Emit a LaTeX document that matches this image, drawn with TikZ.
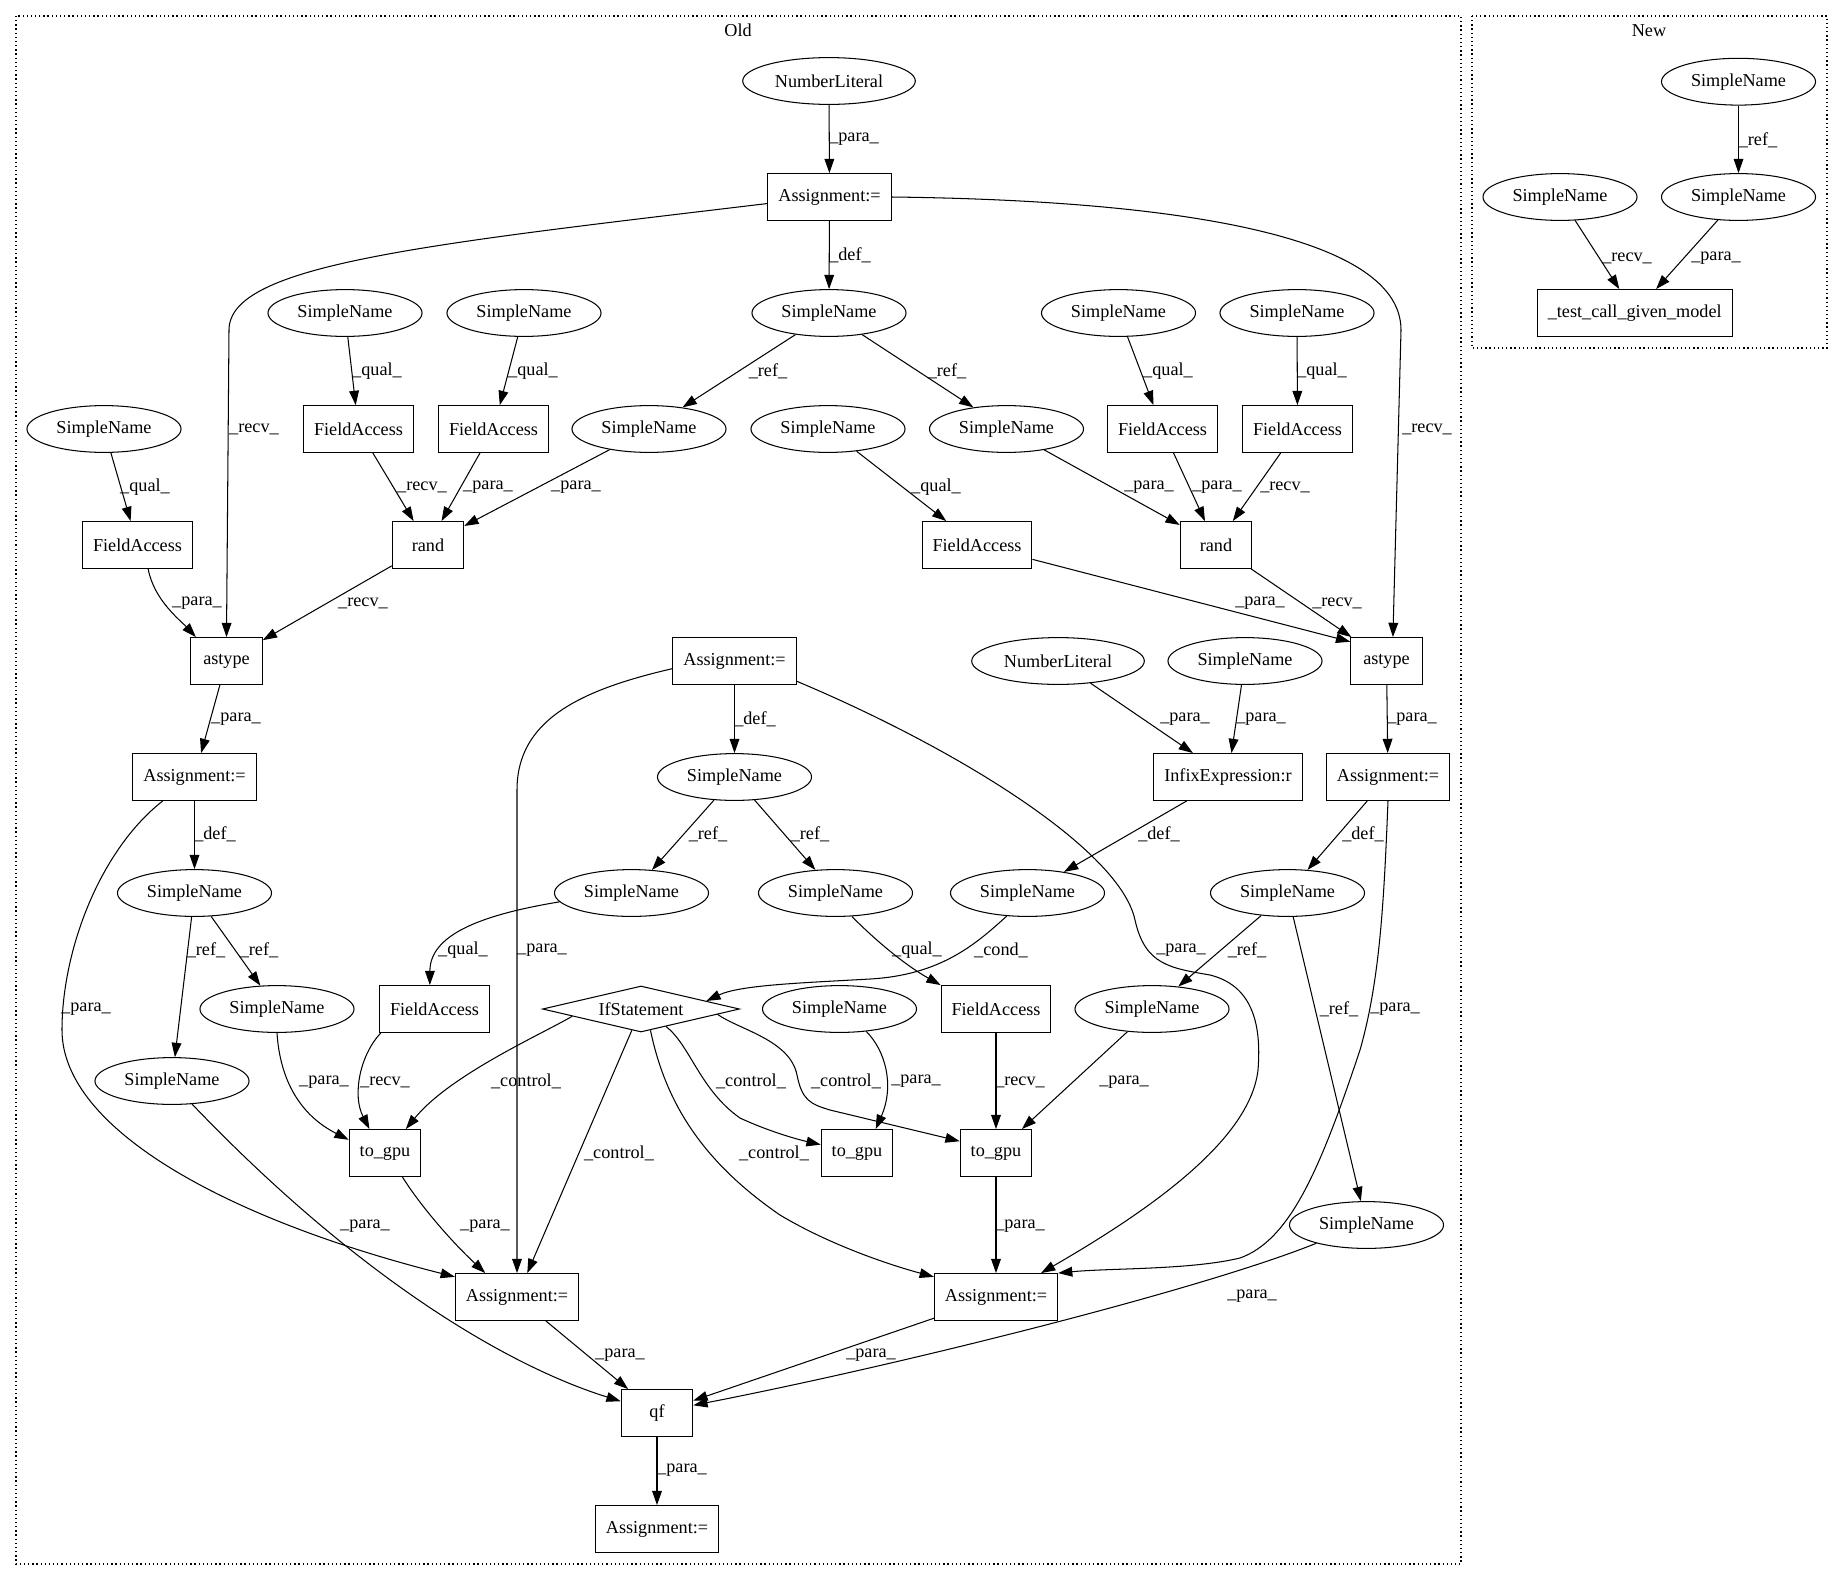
\documentclass[tikz,border=0pt]{standalone}
\usepackage{fontspec}
\setmainfont{Liberation Serif}
\usetikzlibrary{arrows.meta,shapes.geometric}

\begin{document}
\begin{tikzpicture}
  [x=0.7692pt,y=-0.7692pt,line width=0.8pt,font=\fontsize{14}{16}\selectfont,
   sn/.style={ellipse,draw,inner xsep=5.35pt,inner ysep=1pt,minimum height=36pt},
   box/.style={rectangle,draw,inner xsep=8pt,minimum width=55pt,minimum height=36pt},
   cond/.style={diamond,draw,aspect=4.2,inner sep=1pt,minimum width=151.5pt,minimum height=35.4pt},
   lbl/.style={inner sep=0pt},
   arr/.style={-{Triangle[length=11pt,width=7.5pt]}},
   clus/.style={draw,dash pattern=on 1pt off 2.2pt,line width=1pt}]
  \useasboundingbox (0,0) rectangle (1843,1580);
  \draw[clus] (16,16) rectangle (1461,1564);
  \draw[clus] (1472,16) rectangle (1827,348);
  \node (old) at (738,30) {Old};
  \node (new) at (1649,31) {New};

  \node[sn] (nl1) at (829,81) {NumberLiteral};
  \node[box] (as1) at (829.5,197) {Assignment:=};
  \node[sn] (sd1) at (829,313) {SimpleName};
  \node[sn] (sa1) at (345,313) {SimpleName};
  \node[sn] (sa2) at (524,313) {SimpleName};
  \node[sn] (sa3) at (1118.5,313) {SimpleName};
  \node[sn] (sa4) at (1297,313) {SimpleName};
  \node[sn] (sb1) at (104,429) {SimpleName};
  \node[box] (fa1) at (358.5,429) {FieldAccess};
  \node[box] (fa2) at (493.5,429) {FieldAccess};
  \node[sn] (sr1) at (649,429) {SimpleName};
  \node[sn] (sc) at (828,429) {SimpleName};
  \node[sn] (sr2) at (1006.5,429) {SimpleName};
  \node[box] (fa3) at (1162.5,429) {FieldAccess};
  \node[box] (fa4) at (1297.5,429) {FieldAccess};
  \node[box] (fa0) at (137.5,545) {FieldAccess};
  \node[box] (rd1) at (428,545) {rand};
  \node[box] (fa5) at (977,545) {FieldAccess};
  \node[box] (rd2) at (1216,545) {rand};
  \node[box] (at1) at (226.5,661) {astype};
  \node[box] (as2) at (734.5,661) {Assignment:=};
  \node[sn] (nl2) at (1058,661) {NumberLiteral};
  \node[sn] (sd) at (1245,661) {SimpleName};
  \node[box] (at2) at (1386.5,661) {astype};
  \node[box] (as3) at (194.5,777) {Assignment:=};
  \node[sn] (sd2) at (734.5,777) {SimpleName};
  \node[box] (ix) at (1228,777) {InfixExpression:r};
  \node[box] (as4) at (1388,777) {Assignment:=};
  \node[sn] (se1) at (194.5,893) {SimpleName};
  \node[sn] (sr3) at (631.5,893) {SimpleName};
  \node[sn] (sr4) at (835.5,893) {SimpleName};
  \node[sn] (sid) at (1027.5,893) {SimpleName};
  \node[sn] (sd4) at (1287.5,893) {SimpleName};
  \node[sn] (sf1) at (277,1009) {SimpleName};
  \node[box] (fa6) at (434.5,1009) {FieldAccess};
  \node[cond] (ifs) at (641,1009) {IfStatement};
  \node[sn] (sg) at (839.5,1009) {SimpleName};
  \node[box] (fa7) at (996,1009) {FieldAccess};
  \node[sn] (sh) at (1152,1009) {SimpleName};
  \node[sn] (sf2) at (172,1081) {SimpleName};
  \node[box] (tg1) at (385,1153) {to\_gpu};
  \node[box] (tg2) at (857,1153) {to\_gpu};
  \node[box] (tg3) at (996,1153) {to\_gpu};
  \node[sn] (si) at (1366.5,1225) {SimpleName};
  \node[box] (as5) at (517,1297) {Assignment:=};
  \node[box] (as6) at (996,1297) {Assignment:=};
  \node[box] (qf) at (657,1413) {qf};
  \node[box] (as7) at (657,1529) {Assignment:=};

  \node[sn] (n1) at (1738.5,81.7) {SimpleName};
  \node[sn] (n2) at (1738.5,197) {SimpleName};
  \node[sn] (n3) at (1560,197) {SimpleName};
  \node[box] (nt) at (1634.7,313) {\_test\_call\_given\_model};

  \draw[arr] (nl1) -- (as1) node[lbl] at (854,139.5) {\_para\_};
  \draw[arr] (as1) -- (sd1) node[lbl] at (850,255) {\_def\_};
  \draw[arr] (sd1) -- (sr1) node[lbl] at (768,371) {\_ref\_};
  \draw[arr] (sd1) -- (sr2) node[lbl] at (947,371) {\_ref\_};
  \draw[arr] (sa1) -- (fa1) node[lbl] at (377,371) {\_qual\_};
  \draw[arr] (sa2) -- (fa2) node[lbl] at (533,371) {\_qual\_};
  \draw[arr] (sa3) -- (fa3) node[lbl] at (1168,371) {\_qual\_};
  \draw[arr] (sa4) -- (fa4) node[lbl] at (1322,371) {\_qual\_};
  \draw[arr] (sb1) -- (fa0) node[lbl] at (145,487) {\_qual\_};
  \draw[arr] (sc) -- (fa5) node[lbl] at (936,487) {\_qual\_};
  \draw[arr] (fa1) -- (rd1) node[lbl] at (422,487) {\_recv\_};
  \draw[arr] (fa2) -- (rd1) node[lbl] at (488,487) {\_para\_};
  \draw[arr] (sr1) -- (rd1) node[lbl] at (576,487) {\_para\_};
  \draw[arr] (sr2) -- (rd2) node[lbl] at (1149,487) {\_para\_};
  \draw[arr] (fa3) -- (rd2) node[lbl] at (1217,487) {\_para\_};
  \draw[arr] (fa4) -- (rd2) node[lbl] at (1285,487) {\_recv\_};
  \draw[arr] (rd1) -- (at1) node[lbl] at (363,603) {\_recv\_};
  \draw[arr] (fa5) -- (at2.152) node[lbl] at (1260,603) {\_para\_};
  \draw[arr] (rd2) -- (at2) node[lbl] at (1337,603) {\_recv\_};
  \draw[arr] (at1) -- (as3) node[lbl] at (236,719) {\_para\_};
  \draw[arr] (at2) -- (as4) node[lbl] at (1412,719) {\_para\_};
  \draw[arr] (as2) -- (sd2) node[lbl] at (755,719) {\_def\_};
  \draw[arr] (nl2) -- (ix) node[lbl] at (1185,719) {\_para\_};
  \draw[arr] (sd) -- (ix) node[lbl] at (1261,719) {\_para\_};
  \draw[arr] (ix) -- (sid) node[lbl] at (1159,834) {\_def\_};
  \draw[arr] (as3) -- (se1) node[lbl] at (215,834) {\_def\_};
  \draw[arr] (as4) -- (sd4) node[lbl] at (1363,834) {\_def\_};
  \draw[arr] (sd2) -- (sr3) node[lbl] at (708,834) {\_ref\_};
  \draw[arr] (sd2) -- (sr4) node[lbl] at (810,834) {\_ref\_};
  \draw[arr] (se1) -- (sf1) node[lbl] at (259,950) {\_ref\_};
  \draw[arr] (se1) -- (sf2) node[lbl] at (206,950) {\_ref\_};
  \draw[arr] (sd4) -- (sh) node[lbl] at (1247,950) {\_ref\_};
  \draw[arr] (sd4) -- (si) node[lbl] at (1339,1009) {\_ref\_};
  \draw[arr] (fa7) -- (tg3) node[lbl] at (1020,1082) {\_recv\_};
  \draw[arr] (sh) -- (tg3) node[lbl] at (1124,1082) {\_para\_};
  \draw[arr] (ifs) -- (as5) node[lbl] at (619,1153) {\_control\_};
  \draw[arr] (tg3) -- (as6) node[lbl] at (1020,1226) {\_para\_};
  \draw[arr] (as5) -- (qf) node[lbl] at (620,1355) {\_para\_};
  \draw[arr] (as6) -- (qf) node[lbl] at (871,1355) {\_para\_};
  \draw[arr] (qf) -- (as7) node[lbl] at (682,1470) {\_para\_};
  \draw[arr] (n1) -- (n2) node[lbl] at (1758,140) {\_ref\_};
  \draw[arr] (n3) -- (nt) node[lbl] at (1627,258) {\_recv\_};
  \draw[arr] (n2) -- (nt) node[lbl] at (1716,258) {\_para\_};

  \draw[arr] (as1.186) .. controls (420,245) and (229,265) .. (229,330) -- (at1.north)
    node[lbl] at (254,429) {\_recv\_};
  \draw[arr] (as1.east) .. controls (1150,200) and (1401,230) .. (1401,330) -- (at2.75)
    node[lbl] at (1427,429) {\_recv\_};
  \draw[arr] (fa0.-66) .. controls (154,600) and (180,620) .. (at1.142)
    node[lbl] at (197,603) {\_para\_};
  \draw[arr] (as2.187) .. controls (580,690) and (517,720) .. (517,790) -- (as5.north)
    node[lbl] at (542,950) {\_para\_};
  \draw[arr] (as2.-18) .. controls (960,750) and (1120,850) .. (1135,920)
    .. controls (1145,965) and (1170,968) .. (1210,975)
    .. controls (1250,985) and (1262,1020) .. (1258,1070)
    .. controls (1250,1140) and (1150,1210) .. (as6.28)
    node[lbl] at (1181,950) {\_para\_};
  \draw[arr] (sid.-132) .. controls (975,945) and (940,975) .. (870,979)
    .. controls (800,983) and (740,985) .. (ifs.7)
    node[lbl] at (1001,950) {\_cond\_};
  \draw[arr] (as3.-143) .. controls (100,850) and (62,950) .. (62,1030)
    .. controls (62,1130) and (230,1220) .. (as5.162)
    node[lbl] at (86,1009) {\_para\_};
  \draw[arr] (as4.south) .. controls (1384,900) and (1380,980) .. (1360,1050)
    .. controls (1320,1170) and (1290,1240) .. (1240,1258)
    .. controls (1190,1270) and (1110,1268) .. (as6.north east)
    node[lbl] at (1395,1009) {\_para\_};
  \draw[arr] (sr3.187) .. controls (480,915) and (430,935) .. (fa6.101)
    node[lbl] at (463,950) {\_qual\_};
  \draw[arr] (sr4.-55) .. controls (875,940) and (905,965) .. (fa7.north west)
    node[lbl] at (917,950) {\_qual\_};
  \draw[arr] (sf1.south) .. controls (280,1080) and (300,1115) .. (tg1.160)
    node[lbl] at (324,1082) {\_para\_};
  \draw[arr] (fa6.-156) .. controls (360,1055) and (352,1095) .. (tg1.123)
    node[lbl] at (385,1082) {\_recv\_};
  \draw[arr] (ifs.186) .. controls (540,1035) and (450,1075) .. (tg1.49)
    node[lbl] at (526,1081) {\_control\_};
  \draw[arr] (ifs.-35) .. controls (690,1045) and (700,1090) .. (740,1118)
    .. controls (770,1132) and (800,1140) .. (tg2.167)
    node[lbl] at (751,1081) {\_control\_};
  \draw[arr] (ifs.-4) .. controls (740,1030) and (790,1040) .. (797,1075)
    .. controls (802,1100) and (810,1104) .. (830,1110) -- (tg3.162)
    node[lbl] at (846,1081) {\_control\_};
  \draw[arr] (ifs.-66) .. controls (665,1100) and (700,1160) .. (780,1215)
    .. controls (830,1245) and (890,1265) .. (as6.162)
    node[lbl] at (774,1153) {\_control\_};
  \draw[arr] (sg.-40) .. controls (885,1050) and (895,1085) .. (tg2.52)
    node[lbl] at (916,1081) {\_para\_};
  \draw[arr] (tg1.-54) .. controls (420,1205) and (450,1240) .. (as5.143)
    node[lbl] at (485,1226) {\_para\_};
  \draw[arr] (sf2.-49) .. controls (370,1290) and (520,1370) .. (qf.162)
    node[lbl] at (365,1226) {\_para\_};
  \draw[arr] (si.-160) .. controls (1200,1290) and (900,1365) .. (qf.12)
    node[lbl] at (1252,1296) {\_para\_};
\end{tikzpicture}
\end{document}
